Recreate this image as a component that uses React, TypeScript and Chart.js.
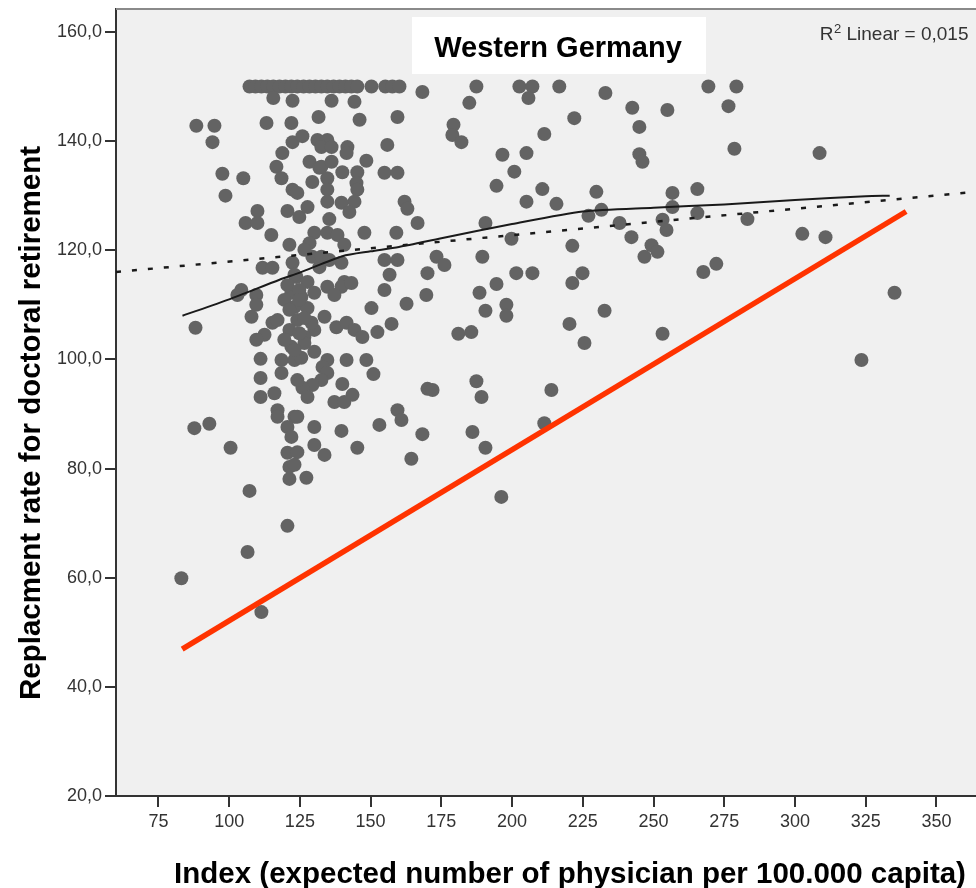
import { useEffect, useRef } from 'react';
import { Chart, registerables } from 'chart.js';

Chart.register(...registerables);

const chartTitle = 'Western Germany';
const xAxisTitle = 'Index (expected number of physician per 100.000 capita)';
const yAxisTitle = 'Replacment rate for doctoral retirement';
const rSquaredText = 'Linear = 0,015';

const xTickValues = [75, 100, 125, 150, 175, 200, 225, 250, 275, 300, 325, 350];
const yTickValues = [20, 40, 60, 80, 100, 120, 140, 160];

const indexValues = [
  107.2, 109.3, 111.4, 113.5, 115.6, 117.8, 119.9, 122.0, 124.1, 126.3,
  128.4, 130.5, 132.6, 134.7, 136.9, 139.0, 141.1, 143.2, 145.3, 150.3,
  155.2, 157.7, 160.2, 187.4, 202.6, 207.2, 216.7, 269.4, 279.3, 168.3,
  233.0, 115.6, 122.4, 136.2, 144.3, 184.9, 205.8, 276.5, 242.5, 254.9,
  88.4, 94.8, 94.1, 97.6, 105.0, 98.7, 110.0, 105.8, 110.0, 114.9,
  113.2, 122.0, 131.6, 118.8, 122.4, 125.9, 116.7, 118.5, 122.4, 124.1,
  128.4, 129.4, 131.9, 120.6, 124.8, 127.7, 111.8, 115.3, 122.4, 123.8,
  129.4, 131.9, 146.1, 159.5, 131.2, 134.7, 132.6, 136.2, 141.8, 141.5,
  155.9, 132.6, 136.2, 140.0, 145.3, 148.5, 154.9, 159.5, 134.7, 134.7,
  145.0, 145.3, 144.3, 139.7, 134.7, 142.5, 135.4, 162.0, 163.0, 166.6,
  130.1, 134.7, 128.4, 147.8, 159.1, 132.6, 139.7, 154.9, 159.5, 156.7,
  140.7, 127.7, 123.1, 173.3, 176.1, 170.1, 194.5, 201.5, 207.2, 221.3,
  224.9, 188.5, 179.3, 178.9, 182.1, 211.4, 222.0, 196.6, 205.1, 200.8,
  245.0, 245.0, 246.1, 194.5, 210.7, 205.1, 215.7, 229.8, 256.7, 256.7,
  231.6, 227.0, 238.0, 253.2, 254.6, 242.2, 249.3, 251.4, 246.8, 221.3,
  199.8, 190.6, 189.5, 278.6, 308.7, 265.5, 265.5, 283.2, 302.6, 310.8,
  272.2, 267.6, 335.2, 323.5, 104.3, 102.9, 109.6, 109.6, 107.9, 88.1,
  115.3, 117.1, 112.5, 109.6, 122.0, 122.0, 111.1, 118.5, 111.1, 118.5,
  111.1, 116.0, 117.1, 117.1, 123.1, 87.7, 93.0, 100.5, 120.6, 122.0,
  120.6, 121.3, 121.3, 107.2, 106.5, 120.6, 111.4, 83.1, 154.9, 150.3,
  162.7, 137.9, 141.5, 144.3, 147.1, 152.4, 157.4, 133.7, 130.1, 126.6,
  141.5, 148.5, 151.0, 140.0, 143.6, 137.2, 140.7, 159.5, 160.9, 153.1,
  130.1, 139.7, 145.3, 130.1, 133.7, 164.4, 127.3, 168.3, 124.1, 123.1,
  130.1, 134.7, 133.0, 134.7, 132.6, 129.4, 125.9, 124.1, 123.1, 125.5,
  127.7, 124.1, 126.6, 123.1, 127.7, 125.5, 130.1, 134.7, 139.7, 143.2,
  137.2, 124.1, 129.1, 169.7, 170.1, 190.6, 198.0, 198.0, 232.7, 220.3,
  225.6, 181.0, 185.6, 253.2, 171.9, 187.4, 189.2, 213.9, 186.0, 190.6,
  211.4, 196.2, 121.3, 126.6, 120.6, 124.8, 119.5, 124.8, 121.3, 126.6,
  121.3, 124.8, 119.5, 123.1, 138.3, 140.7, 135.4,
];

const replacementValues = [
  150, 150, 150, 150, 150, 150, 150, 150, 150, 150,
  150, 150, 150, 150, 150, 150, 150, 150, 150, 150,
  150, 150, 150, 150, 150, 150, 150, 150, 150, 149.0,
  148.8, 147.9, 147.4, 147.4, 147.2, 147.0, 147.9, 146.4, 146.1, 145.7,
  142.8, 142.8, 139.8, 134.0, 133.2, 130.0, 127.2, 125.0, 125.0, 122.8,
  143.3, 143.3, 144.4, 137.8, 139.8, 140.9, 135.3, 133.2, 131.1, 130.5,
  136.2, 132.5, 135.1, 127.2, 126.1, 127.9, 116.8, 116.8, 117.7, 115.1,
  118.8, 116.9, 143.9, 144.4, 140.2, 140.2, 138.9, 138.9, 138.9, 137.8,
  139.3, 135.3, 136.2, 134.3, 134.3, 136.4, 134.2, 134.2, 133.2, 131.1,
  132.3, 131.1, 128.9, 128.7, 128.9, 127.0, 125.7, 128.9, 127.6, 125.0,
  123.2, 123.2, 121.3, 123.2, 123.2, 118.8, 117.7, 118.2, 118.2, 115.5,
  114.2, 114.2, 115.5, 118.8, 117.3, 115.8, 113.8, 115.8, 115.8, 114.0,
  115.8, 112.2, 143.0, 141.1, 139.8, 141.3, 144.2, 137.5, 137.8, 134.4,
  142.6, 137.6, 136.2, 131.8, 131.2, 128.9, 128.5, 130.7, 130.5, 127.9,
  127.4, 126.3, 125.0, 125.6, 123.7, 122.4, 120.9, 119.7, 118.8, 120.8,
  122.1, 125.0, 118.8, 138.6, 137.8, 131.2, 126.8, 125.7, 123.0, 122.4,
  117.5, 116.0, 112.2, 99.9, 112.7, 111.8, 111.8, 110.0, 107.8, 105.8,
  106.7, 107.2, 104.5, 103.6, 112.2, 102.3, 100.1, 99.9, 96.6, 97.5,
  93.1, 93.8, 90.7, 89.5, 89.5, 87.4, 88.2, 83.8, 87.6, 85.8,
  82.9, 80.3, 78.1, 75.9, 64.7, 69.5, 53.7, 59.9, 112.7, 109.4,
  110.2, 105.9, 106.7, 105.4, 104.1, 105.0, 106.5, 107.8, 105.4, 104.1,
  99.9, 99.9, 97.3, 95.5, 93.5, 92.2, 92.2, 90.7, 88.9, 88.0,
  87.6, 86.9, 83.8, 84.3, 82.5, 81.8, 78.3, 86.3, 83.0, 80.7,
  101.4, 99.9, 98.6, 97.5, 96.2, 95.3, 94.8, 96.2, 99.9, 100.3,
  93.1, 89.5, 103.0, 109.6, 109.4, 111.4, 112.2, 113.3, 113.3, 114.0,
  111.8, 107.2, 106.7, 111.8, 94.6, 108.9, 110.0, 108.0, 108.9, 106.5,
  103.0, 104.7, 105.0, 104.7, 94.4, 96.0, 93.1, 94.4, 86.7, 83.8,
  88.3, 74.8, 121.0, 120.1, 113.6, 112.7, 110.9, 110.9, 109.1, 107.6,
  105.4, 104.8, 103.6, 101.7, 122.8, 121.0, 118.2,
];

const loessX = [83.5, 100, 117.8, 125, 140, 150, 160, 175, 200, 225, 250, 275, 300, 325, 333.5];
const loessY = [108.0, 111.0, 114.6, 115.9, 118.9, 119.8, 120.6, 122.2, 124.8, 127.1, 127.8, 128.4, 129.2, 129.9, 130.0];

const linearFitX = [60, 364];
const linearFitY = [116.0, 130.7];

const referenceLineX = [83.4, 339.3];
const referenceLineY = [46.9, 127.1];

const FONT = '"Liberation Sans", Arial, Helvetica, sans-serif';

const decorPlugin = {
  id: 'decor',
  beforeDraw(chart: any) {
    const { ctx, chartArea: a } = chart;
    ctx.save();
    ctx.fillStyle = '#f0f0f0';
    ctx.fillRect(a.left, a.top, a.right - a.left, a.bottom - a.top);
    ctx.restore();
  },
  afterDraw(chart: any) {
    const { ctx, chartArea: a } = chart;
    ctx.save();
    // top frame line
    ctx.strokeStyle = '#8a8a8a';
    ctx.lineWidth = 2;
    ctx.beginPath();
    ctx.moveTo(a.left, a.top);
    ctx.lineTo(a.right, a.top);
    ctx.stroke();

    // title box
    ctx.fillStyle = '#ffffff';
    ctx.fillRect(412, 17, 294, 57);
    ctx.fillStyle = '#000000';
    ctx.font = `bold 29px ${FONT}`;
    ctx.textAlign = 'center';
    ctx.textBaseline = 'alphabetic';
    ctx.fillText(chartTitle, 558, 57);

    // R squared annotation
    ctx.fillStyle = '#333333';
    ctx.textAlign = 'left';
    ctx.font = `19px ${FONT}`;
    const rest = ' ' + rSquaredText;
    const wRest = ctx.measureText(rest).width;
    const wR = ctx.measureText('R').width;
    ctx.font = `13px ${FONT}`;
    const w2 = ctx.measureText('2').width;
    const startX = 968 - (wRest + wR + w2);
    ctx.font = `19px ${FONT}`;
    ctx.fillText('R', startX, 40);
    ctx.font = `13px ${FONT}`;
    ctx.fillText('2', startX + wR + 0.5, 33);
    ctx.font = `19px ${FONT}`;
    ctx.fillText(rest, startX + wR + w2 + 0.5, 40);

    // axis titles
    ctx.fillStyle = '#000000';
    ctx.textAlign = 'center';
    ctx.font = `bold 29.5px ${FONT}`;
    ctx.fillText(xAxisTitle, 570, 883);
    ctx.translate(40, 423);
    ctx.rotate(-Math.PI / 2);
    ctx.font = `bold 29.5px ${FONT}`;
    ctx.fillText(yAxisTitle, 0, 0);
    ctx.restore();
  },
};

export default function App() {
  const canvasRef = useRef<HTMLCanvasElement | null>(null);

  useEffect(() => {
    const canvas = canvasRef.current;
    if (!canvas) return;

    const scatterData = indexValues.map((x, i) => ({ x, y: replacementValues[i] }));
    const loessData = loessX.map((x, i) => ({ x, y: loessY[i] }));
    const fitData = linearFitX.map((x, i) => ({ x, y: linearFitY[i] }));
    const refData = referenceLineX.map((x, i) => ({ x, y: referenceLineY[i] }));

    const axisCommon = {
      type: 'linear' as const,
      grid: {
        drawOnChartArea: false,
        drawTicks: true,
        tickLength: 11,
        color: '#333333',
        lineWidth: 2,
      },
      border: { display: true, color: '#333333', width: 2 },
    };

    const chart = new Chart(canvas, {
      type: 'scatter',
      data: {
        datasets: [
          {
            label: 'reference',
            data: refData,
            showLine: true,
            borderColor: '#ff3300',
            borderWidth: 5.5,
            pointRadius: 0,
            fill: false,
            order: 1,
          },
          {
            label: 'loess',
            data: loessData,
            showLine: true,
            borderColor: '#1a1a1a',
            borderWidth: 2,
            pointRadius: 0,
            tension: 0.25,
            fill: false,
            order: 2,
          },
          {
            label: 'linear',
            data: fitData,
            showLine: true,
            borderColor: '#1a1a1a',
            borderWidth: 2.5,
            borderDash: [5, 11],
            pointRadius: 0,
            fill: false,
            order: 3,
          },
          {
            label: 'regions',
            data: scatterData,
            backgroundColor: '#636363',
            borderColor: '#636363',
            borderWidth: 0,
            pointRadius: 7,
            pointHoverRadius: 7,
            order: 10,
          },
        ],
      },
      options: {
        animation: false,
        responsive: false,
        maintainAspectRatio: false,
        events: [],
        layout: { autoPadding: false, padding: { top: 9, left: 0, right: 0, bottom: 0 } },
        plugins: {
          legend: { display: false },
          tooltip: { enabled: false },
          title: { display: false },
        },
        scales: {
          x: {
            ...axisCommon,
            position: 'bottom',
            min: 60,
            max: 364,
            afterBuildTicks: (s: any) => {
              s.ticks = xTickValues.map((value) => ({ value }));
            },
            afterFit: (s: any) => {
              s.height = 92;
              s.paddingLeft = 0;
              s.paddingRight = 0;
            },
            ticks: {
              padding: 4,
              color: '#333333',
              font: { family: FONT, size: 18 },
              maxRotation: 0,
              autoSkip: false,
              callback: (v: any) => String(v),
            },
          },
          y: {
            ...axisCommon,
            position: 'left',
            min: 20,
            max: 164.2,
            afterBuildTicks: (s: any) => {
              s.ticks = yTickValues.map((value) => ({ value }));
            },
            afterFit: (s: any) => {
              s.width = 116;
              s.paddingTop = 0;
              s.paddingBottom = 0;
            },
            ticks: {
              padding: 3,
              color: '#333333',
              font: { family: FONT, size: 18 },
              autoSkip: false,
              callback: (v: any) => Number(v).toFixed(1).replace('.', ','),
            },
          },
        },
      } as any,
      plugins: [decorPlugin],
    });

    return () => chart.destroy();
  }, []);

  return (
    <div
      style={{
        position: 'fixed',
        left: 0,
        top: 0,
        width: 976,
        height: 888,
        background: '#ffffff',
        overflow: 'hidden',
      }}
    >
      <canvas ref={canvasRef} width={976} height={888} style={{ display: 'block' }} />
    </div>
  );
}
